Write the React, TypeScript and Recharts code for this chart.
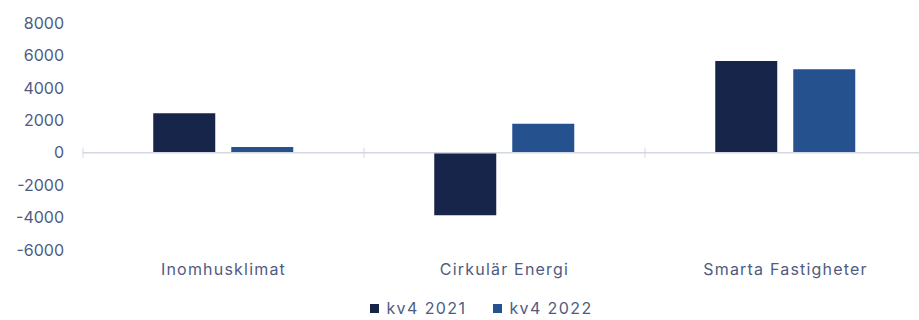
import { BarChart, Bar, XAxis, YAxis, ReferenceLine, Legend } from 'recharts';

const categories = ['Inomhusklimat', 'Cirkulär Energi', 'Smarta Fastigheter'];
const kv4_2021 = [2430, -3850, 5650];
const kv4_2022 = [360, 1780, 5150];
const yTicks = [-6000, -4000, -2000, 0, 2000, 4000, 6000, 8000];

const series = [
  { key: 'kv4 2021', color: '#17254a' },
  { key: 'kv4 2022', color: '#25528f' },
];

const data = categories.map((name, i) => ({
  name,
  'kv4 2021': kv4_2021[i],
  'kv4 2022': kv4_2022[i],
}));

const textColor = '#4f5b7f';
const font = 'Inter, "Open Sans", sans-serif';

const LegendContent = () => (
  <div style={{ display: 'flex', justifyContent: 'center', gap: 27, fontFamily: font, fontSize: 16, lineHeight: '18px', letterSpacing: 1.4, color: textColor }}>
    {series.map((s) => (
      <span key={s.key} style={{ display: 'flex', alignItems: 'center' }}>
        <span style={{ width: 9, height: 9, background: s.color, marginRight: 7, display: 'inline-block' }} />
        {s.key}
      </span>
    ))}
  </div>
);

// zero line with small ticks at the category boundaries
const ZeroLine = (props: any) => {
  const { x1, x2, y1 } = props;
  const step = (x2 - x1) / categories.length;
  return (
    <g>
      <line x1={x1} x2={x2} y1={y1} y2={y1} stroke="#d3d7df" strokeWidth={1.5} />
      {categories.map((_, i) => (
        <line key={i} x1={x1 + i * step} x2={x1 + i * step} y1={y1 - 5} y2={y1 + 5} stroke="#d3d7df" strokeWidth={1} />
      ))}
    </g>
  );
};

export default function App() {
  return (
    <div style={{ position: 'absolute', left: 0, top: 0, width: 919, height: 320, overflow: 'hidden', background: '#fff' }}>
      <BarChart
        width={926}
        height={320}
        data={data}
        margin={{ top: 23, right: 0, bottom: 0, left: 0 }}
        barCategoryGap="25%"
        barGap={16}
      >
        <YAxis
          domain={[-6000, 8000]}
          ticks={yTicks}
          interval={0}
          width={83}
          axisLine={false}
          tickLine={false}
          tickMargin={13}
          tick={{ fill: textColor, fontSize: 16, fontFamily: font }}
        />
        <XAxis
          dataKey="name"
          height={50}
          axisLine={false}
          tickLine={false}
          tickMargin={8}
          tick={{ fill: textColor, fontSize: 16, fontFamily: font, letterSpacing: 1.2 }}
        />
        <ReferenceLine y={0} shape={<ZeroLine />} />
        <Legend verticalAlign="bottom" height={20} content={<LegendContent />} wrapperStyle={{ left: 22, width: 919, bottom: 1 }} />
        {series.map((s) => (
          <Bar key={s.key} dataKey={s.key} fill={s.color} isAnimationActive={false} />
        ))}
      </BarChart>
    </div>
  );
}
